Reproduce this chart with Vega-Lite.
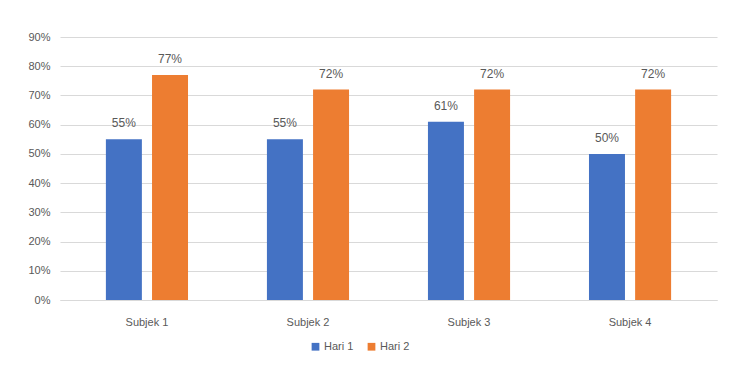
{
  "$schema": "https://vega.github.io/schema/vega-lite/v6.json",
  "autosize": {"type": "none"},
  "width": 657,
  "height": 263,
  "padding": {"left": 60, "top": 37, "right": 15, "bottom": 72},
  "background": "white",
  "data": {
    "values": [
      {"subjek": "Subjek 1", "hari": "Hari 1", "nilai": 0.55, "label": "55%"},
      {"subjek": "Subjek 1", "hari": "Hari 2", "nilai": 0.77, "label": "77%"},
      {"subjek": "Subjek 2", "hari": "Hari 1", "nilai": 0.55, "label": "55%"},
      {"subjek": "Subjek 2", "hari": "Hari 2", "nilai": 0.72, "label": "72%"},
      {"subjek": "Subjek 3", "hari": "Hari 1", "nilai": 0.61, "label": "61%"},
      {"subjek": "Subjek 3", "hari": "Hari 2", "nilai": 0.72, "label": "72%"},
      {"subjek": "Subjek 4", "hari": "Hari 1", "nilai": 0.50, "label": "50%"},
      {"subjek": "Subjek 4", "hari": "Hari 2", "nilai": 0.72, "label": "72%"}
    ]
  },
  "encoding": {
    "x": {
      "field": "subjek", "type": "nominal", "sort": null,
      "scale": {"paddingInner": 0.49, "paddingOuter": 0.285},
      "axis": {"title": null, "labelAngle": 0, "ticks": false, "domain": true, "domainColor": "#d9d9d9",
               "labelPadding": 16, "labelFontSize": 11, "labelColor": "#595959", "labelFont": "Liberation Sans"}
    },
    "xOffset": {"field": "hari", "type": "nominal", "scale": {"paddingInner": 0.22, "paddingOuter": 0}},
    "y": {
      "field": "nilai", "type": "quantitative",
      "scale": {"domain": [0, 0.9], "nice": false, "zero": true},
      "axis": {"title": null, "format": ".0%", "values": [0, 0.1, 0.2, 0.3, 0.4, 0.5, 0.6, 0.7, 0.8, 0.9],
               "labelOverlap": false, "domain": false, "ticks": false, "gridColor": "#d9d9d9", "labelPadding": 10,
               "labelFontSize": 11, "labelColor": "#595959", "labelFont": "Liberation Sans"}
    }
  },
  "layer": [
    {
      "mark": {"type": "bar"},
      "encoding": {
        "color": {
          "field": "hari", "type": "nominal",
          "scale": {"domain": ["Hari 1", "Hari 2"], "range": ["#4472C4", "#ED7D31"]},
          "legend": {"title": null, "orient": "none", "legendX": 250, "legendY": 304, "direction": "horizontal",
                     "symbolType": "square", "symbolSize": 60, "symbolStrokeWidth": 0, "labelFontSize": 11,
                     "labelColor": "#595959", "labelFont": "Liberation Sans", "columnPadding": 12, "labelOffset": 3}
        }
      }
    },
    {
      "mark": {"type": "text", "baseline": "alphabetic", "dy": -12, "fontSize": 12, "color": "#595959", "font": "Liberation Sans"},
      "encoding": {"text": {"field": "label"}}
    }
  ],
  "config": {"view": {"stroke": null}}
}
